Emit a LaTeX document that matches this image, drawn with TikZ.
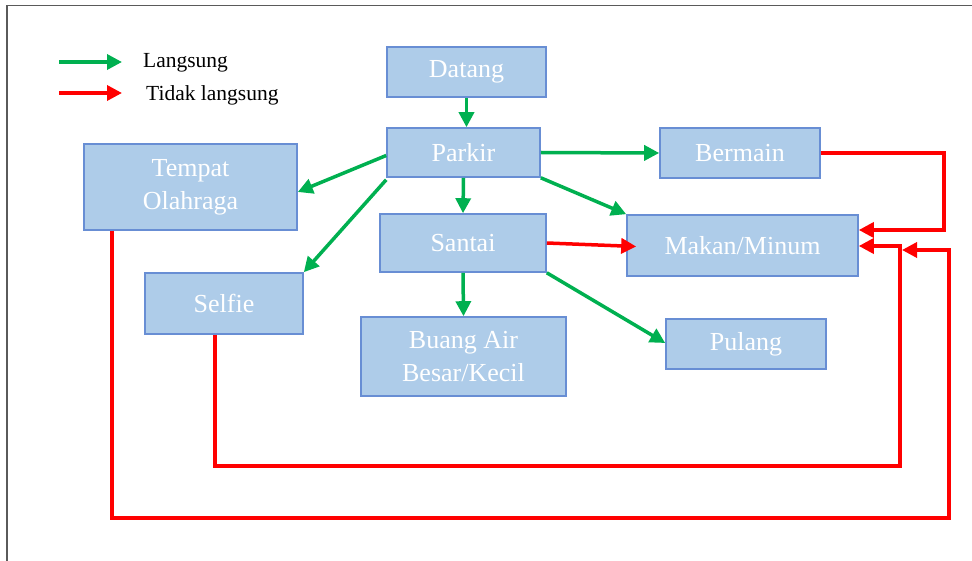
\documentclass[tikz,border=0pt]{standalone}
\usepackage{fontspec}
\setmainfont{Liberation Serif}
\usetikzlibrary{arrows.meta}
\definecolor{boxfill}{RGB}{174,204,233}
\definecolor{boxline}{RGB}{104,142,212}
\definecolor{lgreen}{RGB}{0,176,80}
\definecolor{lred}{RGB}{255,0,0}
\definecolor{frameline}{RGB}{90,90,90}
\begin{document}
\begin{tikzpicture}[x=1pt,y=-1pt,
  box/.style={draw=boxline, line width=1.6pt, fill=boxfill, text=white, align=center,
    font=\fontsize{26}{33}\selectfont, inner sep=0pt},
  garr/.style={draw=lgreen, line width=3.5pt, -{Triangle[length=15pt,width=15pt]}},
  rarr/.style={draw=lred, line width=3.5pt, -{Triangle[length=15pt,width=15pt]}},
  legtext/.style={anchor=west, font=\fontsize{21.5}{24}\selectfont, inner sep=0pt}]
\useasboundingbox (0,0) rectangle (972,561);
% frame
\draw[frameline, line width=1.6pt] (7,561) -- (7,5.5) -- (972,5.5);
% legend
\coordinate (g1) at (59,62);
\coordinate (g2) at (122,62);
\coordinate (r1) at (59,93);
\coordinate (r2) at (122,93);
\draw[garr] (g1) -- (g2);
\draw[rarr] (r1) -- (r2);
\node[legtext] (lg) at (143,63) {Langsung};
\node[legtext] (lr) at (146,95) {Tidak langsung};
% boxes
\node[box, minimum width=159pt, minimum height=50pt] (datang) at (466.5,72) {Datang};
\node[box, minimum width=153pt, minimum height=49pt] (parkir) at (463.5,152.5) {Parkir};
\node[box, minimum width=160pt, minimum height=50pt] (bermain) at (740,153) {Bermain};
\node[box, minimum width=213pt, minimum height=86pt] (tempat) at (190.5,187) {Tempat\\Olahraga};
\node[box, minimum width=166pt, minimum height=58pt] (santai) at (463,243) {Santai};
\node[box, minimum width=231pt, minimum height=61pt] (makan) at (742.5,245.5) {Makan/Minum};
\node[box, minimum width=158pt, minimum height=61pt] (selfie) at (224,303.5) {Selfie};
\node[box, minimum width=205pt, minimum height=79pt] (buang) at (463.5,356.5) {Buang Air\\Besar/Kecil};
\node[box, minimum width=160pt, minimum height=50pt] (pulang) at (746,344) {Pulang};
% green arrows
\draw[garr] (datang.south) -- (datang.south |- parkir.north);
\draw[garr] (parkir.east) -- (bermain.west);
\draw[garr] (parkir.south) -- (santai.north);
\draw[garr] (parkir.south east) -- (makan.north west);
\draw[garr] ([yshift=-3pt]parkir.west) -- ([yshift=-5pt]tempat.east);
\draw[garr] ([yshift=-2pt]parkir.south west) -- (selfie.north east);
\draw[garr] (santai.south) -- (buang.north);
\draw[garr] (santai.south east) -- ([yshift=1pt]pulang.west);
% red arrows
\draw[rarr] (santai.east) -- ([xshift=10pt,yshift=-1pt]makan.west);
\draw[rarr] (bermain.east) -| (944,230) -- ([yshift=15.5pt]makan.east);
\coordinate (c1) at (900,466);
\coordinate (c2) at (900,246);
\draw[rarr] (selfie.south -| 215,0) -- (215,466) -- (c1) -- (c2) -- ([yshift=-0.5pt]makan.east);
\coordinate (c3) at (112,518);
\coordinate (c4) at (949,518);
\coordinate (c5) at (949,250);
\coordinate (c6) at (902,250);
\draw[rarr] (tempat.south -| 112,0) -- (c3) -- (c4) -- (c5) -- (c6);
\end{tikzpicture}
\end{document}
